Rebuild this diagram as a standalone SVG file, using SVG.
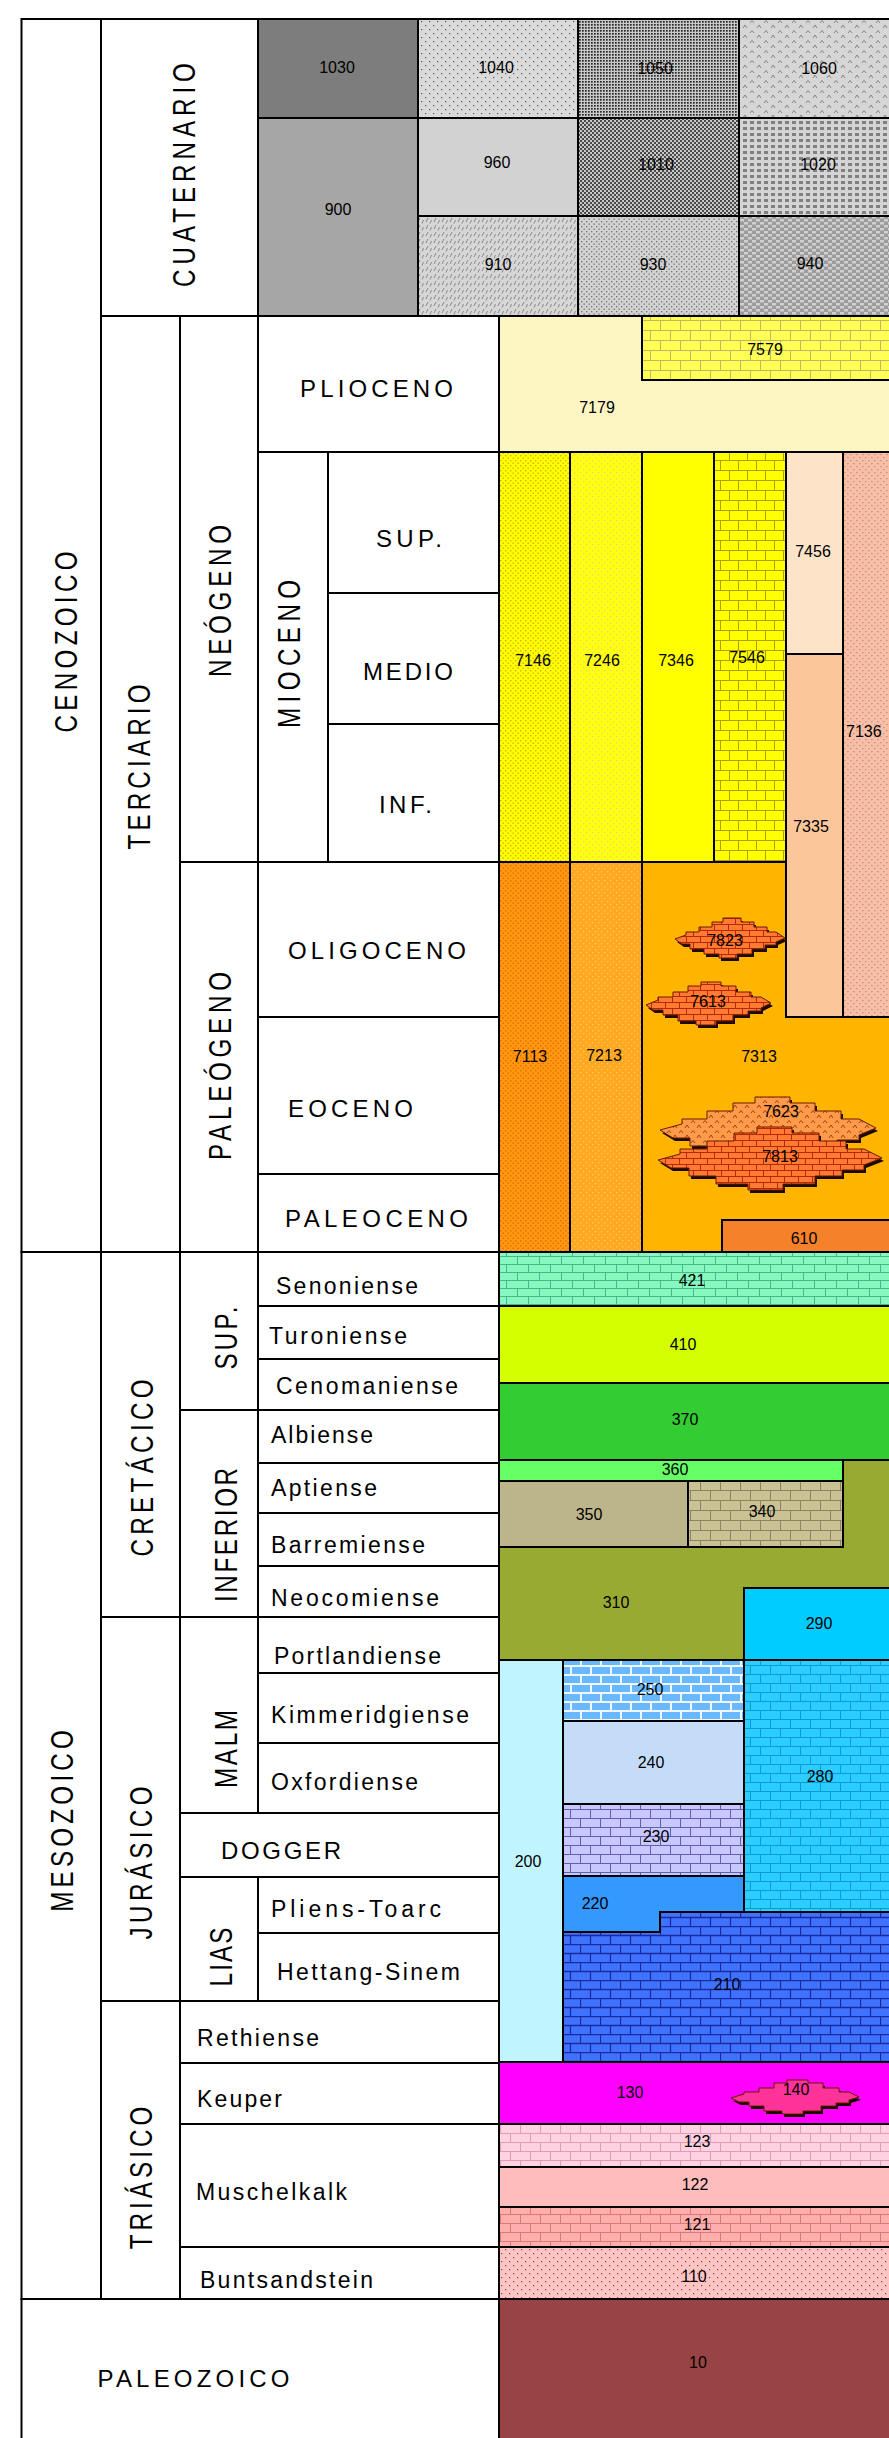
<svg xmlns="http://www.w3.org/2000/svg" width="889" height="2438" viewBox="0 0 889 2438">
<style>
.c{stroke:#000;stroke-width:2}
.w{fill:#fff}
.t{font-family:"Liberation Sans",Arial,sans-serif;fill:#000}
.lbl{font-size:24px}
.stg{font-size:23px}
.rot{font-size:31px}
.num{font-size:16px;text-anchor:middle}
.lens{stroke:#6a1a00;stroke-width:1}
.sh{fill:#1a0a00}
</style>
<defs>
<pattern id="p1040" width="8" height="8" patternUnits="userSpaceOnUse"><rect width="8" height="8" fill="#dadada"/><rect x="1" y="1" width="1.2" height="1.2" fill="#555"/><rect x="5" y="5" width="1.2" height="1.2" fill="#555"/></pattern>
<pattern id="p1050" width="3" height="3" patternUnits="userSpaceOnUse"><rect width="3" height="3" fill="#c8c8c8"/><rect width="1.7" height="1.7" fill="#282828"/></pattern>
<pattern id="p1060" width="14" height="10" patternUnits="userSpaceOnUse"><rect width="14" height="10" fill="#d6d6d6"/><path d="M1 8L3 5L5 8M8 3L10 0.5L12 3" stroke="#707070" stroke-width=".8" fill="none"/></pattern>
<pattern id="p1010" width="4" height="4" patternUnits="userSpaceOnUse"><rect width="4" height="4" fill="#c8c8c8"/><rect width="2" height="2" fill="#4a4a4a"/><rect x="2" y="2" width="2" height="2" fill="#4a4a4a"/></pattern>
<pattern id="p1020" width="7" height="6" patternUnits="userSpaceOnUse"><rect width="7" height="6" fill="#d4d4d4"/><rect x="1" y="1" width="4" height="3" fill="#808080"/></pattern>
<pattern id="p910" width="8" height="7" patternUnits="userSpaceOnUse"><rect width="8" height="7" fill="#d6d6d6"/><path d="M2 5L4 1M6 6.5L7.5 3" stroke="#808080" stroke-width=".9"/></pattern>
<pattern id="p930" width="5" height="5" patternUnits="userSpaceOnUse"><rect width="5" height="5" fill="#d2d2d2"/><rect x="1" y="1" width="1.3" height="1.3" fill="#707070"/><rect x="3.5" y="3.5" width="1.3" height="1.3" fill="#707070"/></pattern>
<pattern id="p940" width="8" height="6" patternUnits="userSpaceOnUse"><rect width="8" height="6" fill="#9c9c9c"/><rect width="4" height="2.5" fill="#d0d0d0"/><rect x="4" y="3" width="4" height="2.5" fill="#d0d0d0"/></pattern>
<pattern id="pY" width="20" height="20" patternUnits="userSpaceOnUse"><rect width="20" height="20" fill="#ffff55"/><path d="M0 .5H20M0 10.5H20M.5 0V10M10.5 10V20" stroke="#c0b860" fill="none"/></pattern>
<pattern id="p7146" width="5" height="5" patternUnits="userSpaceOnUse"><rect width="5" height="5" fill="#ffff00"/><rect width="1.4" height="1.4" fill="#d8b000"/><rect x="2.5" y="2.5" width="1.4" height="1.4" fill="#d8b000"/></pattern>
<pattern id="p7246" width="6" height="6" patternUnits="userSpaceOnUse"><rect width="6" height="6" fill="#ffff10"/><rect x="1" y="1" width="1.3" height="1.3" fill="#f0d070"/><rect x="4" y="4" width="1.3" height="1.3" fill="#f0d070"/></pattern>
<pattern id="p7546" width="18" height="20" patternUnits="userSpaceOnUse"><rect width="18" height="20" fill="#ffff00"/><path d="M0 .5H18M0 10.5H18M.5 0V10M9.5 10V20" stroke="#b0a000" fill="none"/></pattern>
<pattern id="p7136" width="6" height="6" patternUnits="userSpaceOnUse"><rect width="6" height="6" fill="#f6c0a8"/><rect x="1" y="1" width="1.6" height="1.2" fill="#e08c74"/><rect x="4" y="4" width="1.6" height="1.2" fill="#e08c74"/></pattern>
<pattern id="p7113" width="5" height="5" patternUnits="userSpaceOnUse"><rect width="5" height="5" fill="#ff9a10"/><rect width="1.5" height="1.5" fill="#ec6800"/><rect x="2.5" y="2.5" width="1.5" height="1.5" fill="#ec6800"/></pattern>
<pattern id="p7213" width="6" height="6" patternUnits="userSpaceOnUse"><rect width="6" height="6" fill="#ffa820"/><rect x="1" y="1" width="1.3" height="1.3" fill="#ffcc66"/><rect x="4" y="4" width="1.3" height="1.3" fill="#ffcc66"/></pattern>
<pattern id="p421" width="22" height="16" patternUnits="userSpaceOnUse"><rect width="22" height="16" fill="#86f8c0"/><path d="M0 .5H22M0 8.5H22M.5 0V8M11.5 8V16" stroke="#48b888" fill="none"/></pattern>
<pattern id="p340" width="20" height="20" patternUnits="userSpaceOnUse"><rect width="20" height="20" fill="#cac295"/><path d="M0 .5H20M0 10.5H20M.5 0V10M10.5 10V20" stroke="#8a8460" fill="none"/></pattern>
<pattern id="p250" width="20" height="18" patternUnits="userSpaceOnUse"><rect width="20" height="18" fill="#6ab8ff"/><path d="M0 1H20M0 10H20M1 0V9M11 9V18" stroke="#f0f8ff" stroke-width="2" fill="none"/></pattern>
<pattern id="p230" width="20" height="18" patternUnits="userSpaceOnUse"><rect width="20" height="18" fill="#c8c8ff"/><path d="M0 .5H20M0 9.5H20M.5 0V9M10.5 9V18" stroke="#6060b0" fill="none"/></pattern>
<pattern id="p280" width="20" height="18" patternUnits="userSpaceOnUse"><rect width="20" height="18" fill="#2ccdff"/><path d="M0 .5H20M0 9.5H20M.5 0V9M10.5 9V18" stroke="#0a9ad8" fill="none"/></pattern>
<pattern id="p210" width="20" height="18" patternUnits="userSpaceOnUse"><rect width="20" height="18" fill="#3f73ff"/><path d="M0 .5H20M0 9.5H20M.5 0V9M10.5 9V18" stroke="#1a2aa0" stroke-width="1.3" fill="none"/></pattern>
<pattern id="p123" width="20" height="18" patternUnits="userSpaceOnUse"><rect width="20" height="18" fill="#ffd2e2"/><path d="M0 .5H20M0 9.5H20M.5 0V9M10.5 9V18" stroke="#e29ab6" fill="none"/></pattern>
<pattern id="p121" width="20" height="18" patternUnits="userSpaceOnUse"><rect width="20" height="18" fill="#ffaeae"/><path d="M0 .5H20M0 9.5H20M.5 0V9M10.5 9V18" stroke="#d87878" fill="none"/></pattern>
<pattern id="p110" width="8" height="8" patternUnits="userSpaceOnUse"><rect width="8" height="8" fill="#ffc4c4"/><rect x="1" y="1" width="1.2" height="1.2" fill="#7a4a4a"/><rect x="5" y="5" width="1.2" height="1.2" fill="#7a4a4a"/></pattern>
<pattern id="pLens" width="14" height="12" patternUnits="userSpaceOnUse"><rect width="14" height="12" fill="#ff7a33"/><path d="M0 .5H14M0 6.5H14M.5 0V6M7.5 6V12" stroke="#b82800" fill="none"/></pattern>
<pattern id="p7623" width="12" height="10" patternUnits="userSpaceOnUse"><rect width="12" height="10" fill="#ff9a4a"/><path d="M1 8L3 5L5 8M7 3L9 0.5L11 3" stroke="#8a3000" stroke-width=".8" fill="none"/></pattern>
</defs>
<rect width="889" height="2438" fill="#fff"/>

<!-- Quaternary -->
<g id="u1030"><rect class="c" x="258" y="19" width="160" height="99" fill="#7d7d7d"/><text class="t num" x="337" y="73">1030</text></g>
<g id="u900"><rect class="c" x="258" y="118" width="160" height="198" fill="#a6a6a6"/><text class="t num" x="338" y="215">900</text></g>
<g id="u1040"><rect class="c" x="418" y="19" width="160" height="99" fill="url(#p1040)"/><text class="t num" x="496" y="73">1040</text></g>
<g id="u1050"><rect class="c" x="578" y="19" width="161" height="99" fill="url(#p1050)"/><text class="t num" x="655" y="74">1050</text></g>
<g id="u1060"><rect class="c" x="739" y="19" width="160" height="99" fill="url(#p1060)"/><text class="t num" x="819" y="74">1060</text></g>
<g id="u960"><rect class="c" x="418" y="118" width="160" height="98" fill="#d2d2d2"/><text class="t num" x="497" y="168">960</text></g>
<g id="u1010"><rect class="c" x="578" y="118" width="161" height="98" fill="url(#p1010)"/><text class="t num" x="656" y="170">1010</text></g>
<g id="u1020"><rect class="c" x="739" y="118" width="160" height="98" fill="url(#p1020)"/><text class="t num" x="818" y="170">1020</text></g>
<g id="u910"><rect class="c" x="418" y="216" width="160" height="100" fill="url(#p910)"/><text class="t num" x="498" y="270">910</text></g>
<g id="u930"><rect class="c" x="578" y="216" width="161" height="100" fill="url(#p930)"/><text class="t num" x="653" y="270">930</text></g>
<g id="u940"><rect class="c" x="739" y="216" width="160" height="100" fill="url(#p940)"/><text class="t num" x="810" y="269">940</text></g>

<!-- Tertiary -->
<g id="u7179"><rect class="c" x="499" y="316" width="400" height="136" fill="#fdf6c3"/><text class="t num" x="597" y="413">7179</text></g>
<g id="u7579"><rect class="c" x="642" y="316" width="257" height="64" fill="url(#pY)"/><text class="t num" x="765" y="355">7579</text></g>
<g id="u7146"><rect class="c" x="499" y="452" width="71" height="410" fill="url(#p7146)"/><text class="t num" x="533" y="666">7146</text></g>
<g id="u7246"><rect class="c" x="570" y="452" width="72" height="410" fill="url(#p7246)"/><text class="t num" x="602" y="666">7246</text></g>
<g id="u7346"><rect class="c" x="642" y="452" width="72" height="410" fill="#ffff00"/><text class="t num" x="676" y="666">7346</text></g>
<g id="u7546"><rect class="c" x="714" y="452" width="72" height="410" fill="url(#p7546)"/><text class="t num" x="747" y="663">7546</text></g>
<g id="u7456"><rect class="c" x="786" y="452" width="57" height="202" fill="#fde3c8"/><text class="t num" x="813" y="557">7456</text></g>
<g id="u7335"><rect class="c" x="786" y="654" width="57" height="363" fill="#fbc79a"/><text class="t num" x="811" y="832">7335</text></g>
<g id="u7136"><rect class="c" x="843" y="452" width="56" height="565" fill="url(#p7136)"/><text class="t" style="font-size:16px" x="846" y="737">7136</text></g>
<g id="u7113"><rect class="c" x="499" y="862" width="71" height="390" fill="url(#p7113)"/><text class="t num" x="530" y="1062">7113</text></g>
<g id="u7213"><rect class="c" x="570" y="862" width="72" height="390" fill="url(#p7213)"/><text class="t num" x="604" y="1061">7213</text></g>
<g id="u7313"><path class="c" d="M642 862H786V1017H899V1252H642Z" fill="#ffb400"/><text class="t num" x="759" y="1062">7313</text></g>
<g id="u610"><rect class="c" x="722" y="1220" width="177" height="32" fill="#f5822a"/><text class="t num" x="804" y="1244">610</text></g>

<g id="u7823">
<path class="sh" transform="translate(2,3)" d="M675 939L686 935V932H699V927H712V922H723V918H741V922H754V927H767V932H776L785 938L776 942V945H765V949H752V954H737V958H719V954H704V949H690V944H682Z"/>
<path class="lens" fill="url(#pLens)" d="M675 939L686 935V932H699V927H712V922H723V918H741V922H754V927H767V932H776L785 938L776 942V945H765V949H752V954H737V958H719V954H704V949H690V944H682Z"/>
<text class="t num" x="725" y="946">7823</text></g>
<g id="u7613">
<path class="sh" transform="translate(2,3)" d="M646 1005L658 1000V997H673V992H688V986H701V982H721V986H736V992H751V997H761L771 1003L761 1008V1011H748V1015H733V1021H716V1025H696V1021H678V1015H663V1010H653Z"/>
<path class="lens" fill="url(#pLens)" d="M646 1005L658 1000V997H673V992H688V986H701V982H721V986H736V992H751V997H761L771 1003L761 1008V1011H748V1015H733V1021H716V1025H696V1021H678V1015H663V1010H653Z"/>
<text class="t num" x="708" y="1007">7613</text></g>
<g id="u7623">
<path class="sh" transform="translate(2,3)" d="M660 1130L682 1124V1119H707V1111H733V1103H755V1097H790V1103H815V1111H841V1119H859L876 1128L859 1135V1140H837V1146H811V1154H781V1160H746V1154H716V1146H690V1138H673Z"/>
<path class="lens" fill="url(#p7623)" d="M660 1130L682 1124V1119H707V1111H733V1103H755V1097H790V1103H815V1111H841V1119H859L876 1128L859 1135V1140H837V1146H811V1154H781V1160H746V1154H716V1146H690V1138H673Z"/>
<text class="t num" x="781" y="1117">7623</text></g>
<g id="u7813">
<path class="sh" transform="translate(2,3)" d="M658 1160L680 1154V1149H707V1141H734V1133H757V1127H792V1133H819V1141H846V1149H864L882 1158L864 1165V1170H842V1176H815V1184H783V1190H748V1184H716V1176H689V1168H671Z"/>
<path class="lens" fill="url(#pLens)" d="M658 1160L680 1154V1149H707V1141H734V1133H757V1127H792V1133H819V1141H846V1149H864L882 1158L864 1165V1170H842V1176H815V1184H783V1190H748V1184H716V1176H689V1168H671Z"/>
<text class="t num" x="780" y="1162">7813</text></g>

<!-- Cretaceous -->
<g id="u421"><rect class="c" x="499" y="1252" width="400" height="54" fill="url(#p421)"/><text class="t num" x="692" y="1286">421</text></g>
<g id="u410"><rect class="c" x="499" y="1306" width="400" height="77" fill="#d4ff00"/><text class="t num" x="683" y="1350">410</text></g>
<g id="u370"><rect class="c" x="499" y="1383" width="400" height="77" fill="#33cc33"/><text class="t num" x="685" y="1425">370</text></g>
<g id="u310"><path class="c" d="M499 1547H843V1460H899V1588H744V1660H499Z" fill="#99aa33"/><text class="t num" x="616" y="1608">310</text></g>
<g id="u360"><rect class="c" x="499" y="1460" width="344" height="21" fill="#66ff66"/><text class="t num" x="675" y="1475">360</text></g>
<g id="u350"><rect class="c" x="499" y="1481" width="189" height="66" fill="#bdb58a"/><text class="t num" x="589" y="1520">350</text></g>
<g id="u340"><rect class="c" x="688" y="1481" width="155" height="66" fill="url(#p340)"/><text class="t num" x="762" y="1517">340</text></g>
<g id="u290"><rect class="c" x="744" y="1588" width="155" height="72" fill="#00ccff"/><text class="t num" x="819" y="1629">290</text></g>

<!-- Jurassic -->
<g id="u200"><rect class="c" x="499" y="1660" width="64" height="402" fill="#c0f4ff"/><text class="t num" x="528" y="1867">200</text></g>
<g id="u250"><rect class="c" x="563" y="1660" width="181" height="61" fill="url(#p250)"/><text class="t num" x="650" y="1695">250</text></g>
<g id="u240"><rect class="c" x="563" y="1721" width="181" height="83" fill="#c4dcf8"/><text class="t num" x="651" y="1768">240</text></g>
<g id="u230"><rect class="c" x="563" y="1804" width="181" height="72" fill="url(#p230)"/><text class="t num" x="656" y="1842">230</text></g>
<g id="u280"><rect class="c" x="744" y="1660" width="155" height="252" fill="url(#p280)"/><text class="t num" x="820" y="1782">280</text></g>
<g id="u220"><path class="c" d="M563 1876H744V1912H660V1932H563Z" fill="#3399ff"/><text class="t num" x="595" y="1909">220</text></g>
<g id="u210"><path class="c" d="M563 1932H660V1912H899V2062H563Z" fill="url(#p210)"/><text class="t num" x="727" y="1990">210</text></g>

<!-- Triassic -->
<g id="u130"><rect class="c" x="499" y="2062" width="400" height="62" fill="#ff00ff"/><text class="t num" x="630" y="2098">130</text></g>
<g id="u140">
<path class="sh" transform="translate(2,3)" d="M731 2098L744 2094V2092H759V2088H774V2083H787V2080H808V2083H823V2088H839V2092H849L859 2097L849 2100V2103H836V2106H821V2111H803V2114H782V2111H764V2106H749V2102H739Z"/>
<path class="lens" fill="#ff3399" d="M731 2098L744 2094V2092H759V2088H774V2083H787V2080H808V2083H823V2088H839V2092H849L859 2097L849 2100V2103H836V2106H821V2111H803V2114H782V2111H764V2106H749V2102H739Z"/>
<text class="t num" x="796" y="2095">140</text></g>
<g id="u123"><rect class="c" x="499" y="2124" width="400" height="43" fill="url(#p123)"/><text class="t num" x="697" y="2147">123</text></g>
<g id="u122"><rect class="c" x="499" y="2167" width="400" height="40" fill="#ffbcbc"/><text class="t num" x="695" y="2190">122</text></g>
<g id="u121"><rect class="c" x="499" y="2207" width="400" height="40" fill="url(#p121)"/><text class="t num" x="697" y="2230">121</text></g>
<g id="u110"><rect class="c" x="499" y="2247" width="400" height="52" fill="url(#p110)"/><text class="t num" x="694" y="2282">110</text></g>
<g id="u10"><rect class="c" x="499" y="2299" width="400" height="160" fill="#994444"/><text class="t num" x="698" y="2368">10</text></g>

<!-- Chronostratigraphic column -->
<g id="cenozoico"><rect class="c w" x="21.5" y="19" width="79.5" height="1233"/><text class="t rot" transform="translate(66,642) rotate(-90) scale(0.78,1)" x="-116" y="11" textLength="232" lengthAdjust="spacing">CENOZOICO</text></g>
<g id="cuaternario"><rect class="c w" x="101" y="19" width="157" height="297"/><text class="t rot" transform="translate(184,175) rotate(-90) scale(0.78,1)" x="-143.5" y="11" textLength="287" lengthAdjust="spacing">CUATERNARIO</text></g>
<g id="terciario"><rect class="c w" x="101" y="316" width="79" height="936"/><text class="t rot" transform="translate(139,767) rotate(-90) scale(0.78,1)" x="-105.8" y="11" textLength="211.5" lengthAdjust="spacing">TERCIARIO</text></g>
<g id="neogeno"><rect class="c w" x="180" y="316" width="78" height="546"/><text class="t rot" transform="translate(219.5,601) rotate(-90) scale(0.78,1)" x="-97.5" y="11" textLength="195" lengthAdjust="spacing">NEÓGENO</text></g>
<g id="paleogeno"><rect class="c w" x="180" y="862" width="78" height="390"/><text class="t rot" transform="translate(219.5,1066) rotate(-90) scale(0.78,1)" x="-120.5" y="11" textLength="241" lengthAdjust="spacing">PALEÓGENO</text></g>
<g id="plioceno"><rect class="c w" x="258" y="316" width="241" height="136"/><text class="t lbl" x="300" y="397" textLength="153" lengthAdjust="spacing">PLIOCENO</text></g>
<g id="mioceno"><rect class="c w" x="258" y="452" width="70" height="410"/><text class="t rot" transform="translate(289,654) rotate(-90) scale(0.78,1)" x="-95" y="11" textLength="190" lengthAdjust="spacing">MIOCENO</text></g>
<g id="mioceno-sup"><rect class="c w" x="328" y="452" width="171" height="141"/><text class="t lbl" x="376" y="547" textLength="66" lengthAdjust="spacing">SUP.</text></g>
<g id="mioceno-medio"><rect class="c w" x="328" y="593" width="171" height="131"/><text class="t lbl" x="363" y="680" textLength="90" lengthAdjust="spacing">MEDIO</text></g>
<g id="mioceno-inf"><rect class="c w" x="328" y="724" width="171" height="138"/><text class="t lbl" x="379" y="813" textLength="53" lengthAdjust="spacing">INF.</text></g>
<g id="oligoceno"><rect class="c w" x="258" y="862" width="241" height="155"/><text class="t lbl" x="288" y="959" textLength="178" lengthAdjust="spacing">OLIGOCENO</text></g>
<g id="eoceno"><rect class="c w" x="258" y="1017" width="241" height="157"/><text class="t lbl" x="288" y="1117" textLength="125" lengthAdjust="spacing">EOCENO</text></g>
<g id="paleoceno"><rect class="c w" x="258" y="1174" width="241" height="78"/><text class="t lbl" x="285" y="1227" textLength="183" lengthAdjust="spacing">PALEOCENO</text></g>

<g id="mesozoico"><rect class="c w" x="21.5" y="1252" width="79.5" height="1047"/><text class="t rot" transform="translate(62,1821) rotate(-90) scale(0.78,1)" x="-116.5" y="11" textLength="233" lengthAdjust="spacing">MESOZOICO</text></g>
<g id="cretacico"><rect class="c w" x="101" y="1252" width="79" height="365"/><text class="t rot" transform="translate(141.5,1468) rotate(-90) scale(0.78,1)" x="-113.5" y="11" textLength="227" lengthAdjust="spacing">CRETÁCICO</text></g>
<g id="cretacico-sup"><rect class="c w" x="180" y="1252" width="78" height="158"/><text class="t rot" transform="translate(226,1338) rotate(-90) scale(0.78,1)" x="-40.5" y="11" textLength="81" lengthAdjust="spacing">SUP.</text></g>
<g id="cretacico-inf"><rect class="c w" x="180" y="1410" width="78" height="207"/><text class="t rot" transform="translate(225.5,1535) rotate(-90) scale(0.78,1)" x="-86" y="11" textLength="172" lengthAdjust="spacing">INFERIOR</text></g>
<g id="senoniense"><rect class="c w" x="258" y="1252" width="241" height="54"/><text class="t stg" x="276" y="1294" textLength="142" lengthAdjust="spacing">Senoniense</text></g>
<g id="turoniense"><rect class="c w" x="258" y="1306" width="241" height="53"/><text class="t stg" x="269" y="1344" textLength="138" lengthAdjust="spacing">Turoniense</text></g>
<g id="cenomaniense"><rect class="c w" x="258" y="1359" width="241" height="51"/><text class="t stg" x="276" y="1394" textLength="182" lengthAdjust="spacing">Cenomaniense</text></g>
<g id="albiense"><rect class="c w" x="258" y="1410" width="241" height="53"/><text class="t stg" x="271" y="1443" textLength="102" lengthAdjust="spacing">Albiense</text></g>
<g id="aptiense"><rect class="c w" x="258" y="1463" width="241" height="50"/><text class="t stg" x="271" y="1496" textLength="106" lengthAdjust="spacing">Aptiense</text></g>
<g id="barremiense"><rect class="c w" x="258" y="1513" width="241" height="53"/><text class="t stg" x="271" y="1553" textLength="154" lengthAdjust="spacing">Barremiense</text></g>
<g id="neocomiense"><rect class="c w" x="258" y="1566" width="241" height="51"/><text class="t stg" x="271" y="1606" textLength="168" lengthAdjust="spacing">Neocomiense</text></g>

<g id="jurasico"><rect class="c w" x="101" y="1617" width="79" height="384"/><text class="t rot" transform="translate(141,1863) rotate(-90) scale(0.78,1)" x="-98" y="11" textLength="196" lengthAdjust="spacing">JURÁSICO</text></g>
<g id="malm"><rect class="c w" x="180" y="1617" width="78" height="196"/><text class="t rot" transform="translate(225.5,1749) rotate(-90) scale(0.78,1)" x="-50" y="11" textLength="100" lengthAdjust="spacing">MALM</text></g>
<g id="portlandiense"><rect class="c w" x="258" y="1617" width="241" height="56"/><text class="t stg" x="274" y="1664" textLength="167" lengthAdjust="spacing">Portlandiense</text></g>
<g id="kimmeridgiense"><rect class="c w" x="258" y="1673" width="241" height="70"/><text class="t stg" x="271" y="1723" textLength="198" lengthAdjust="spacing">Kimmeridgiense</text></g>
<g id="oxfordiense"><rect class="c w" x="258" y="1743" width="241" height="70"/><text class="t stg" x="271" y="1790" textLength="147" lengthAdjust="spacing">Oxfordiense</text></g>
<g id="dogger"><rect class="c w" x="180" y="1813" width="319" height="64"/><text class="t lbl" x="221" y="1859" textLength="120" lengthAdjust="spacing">DOGGER</text></g>
<g id="lias"><rect class="c w" x="180" y="1877" width="78" height="124"/><text class="t rot" transform="translate(221,1957) rotate(-90) scale(0.78,1)" x="-37.8" y="11" textLength="75.6" lengthAdjust="spacing">LIAS</text></g>
<g id="pliens-toarc"><rect class="c w" x="258" y="1877" width="241" height="56"/><text class="t stg" x="271" y="1917" textLength="170" lengthAdjust="spacing">Pliens-Toarc</text></g>
<g id="hettang-sinem"><rect class="c w" x="258" y="1933" width="241" height="68"/><text class="t stg" x="277" y="1980" textLength="183" lengthAdjust="spacing">Hettang-Sinem</text></g>

<g id="triasico"><rect class="c w" x="101" y="2001" width="79" height="298"/><text class="t rot" transform="translate(141,2178) rotate(-90) scale(0.78,1)" x="-91.5" y="11" textLength="183" lengthAdjust="spacing">TRIÁSICO</text></g>
<g id="rethiense"><rect class="c w" x="180" y="2001" width="319" height="62"/><text class="t stg" x="197" y="2046" textLength="122" lengthAdjust="spacing">Rethiense</text></g>
<g id="keuper"><rect class="c w" x="180" y="2063" width="319" height="61"/><text class="t stg" x="197" y="2107" textLength="85" lengthAdjust="spacing">Keuper</text></g>
<g id="muschelkalk"><rect class="c w" x="180" y="2124" width="319" height="123"/><text class="t stg" x="196" y="2200" textLength="151" lengthAdjust="spacing">Muschelkalk</text></g>
<g id="buntsandstein"><rect class="c w" x="180" y="2247" width="319" height="52"/><text class="t stg" x="200" y="2288" textLength="173" lengthAdjust="spacing">Buntsandstein</text></g>

<g id="paleozoico"><rect class="c w" x="21.5" y="2299" width="477.5" height="160"/><text class="t lbl" x="97.5" y="2387" textLength="192" lengthAdjust="spacing">PALEOZOICO</text></g>
</svg>
